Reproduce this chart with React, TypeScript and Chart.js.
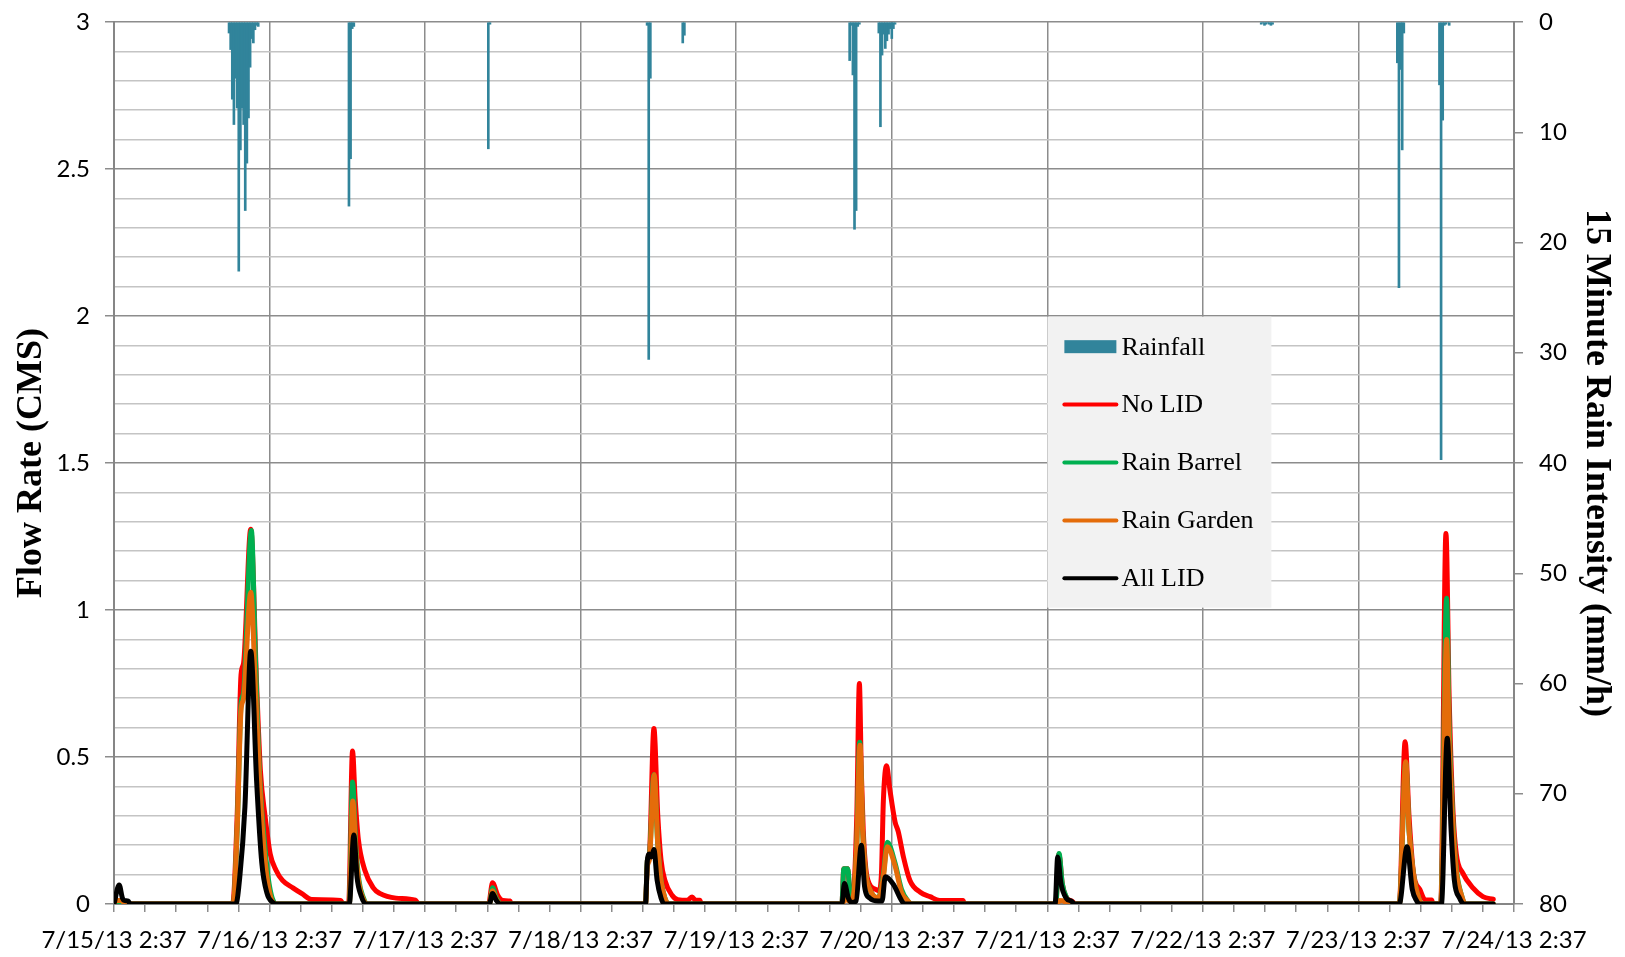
import React, { useEffect, useRef } from 'react';
import { Chart, registerables } from 'chart.js';

Chart.register(...registerables);

// x axis: hours since 7/15/13 2:37
const xTickLabels = [
  '7/15/13 2:37', '7/16/13 2:37', '7/17/13 2:37', '7/18/13 2:37', '7/19/13 2:37',
  '7/20/13 2:37', '7/21/13 2:37', '7/22/13 2:37', '7/23/13 2:37', '7/24/13 2:37',
];
const yTickLabels = ['0', '0.5', '1', '1.5', '2', '2.5', '3'];
const rainTickLabels = ['0', '10', '20', '30', '40', '50', '60', '70', '80'];

const seriesLabels = ['Rainfall', 'No LID', 'Rain Barrel', 'Rain Garden', 'All LID'];

// Rainfall (mm/h), 15-minute bursts: start hour and consecutive values
const rainStarts = [17.75, 36.25, 57.75, 82.25, 87.75, 113.5, 118.0, 177.0, 198.0, 204.5];
const rainBursts = [
  [1.0, 2.5, 7.0, 9.3, 5.1, 7.8, 22.6, 11.6, 7.8, 9.3, 17.1, 12.8, 8.7, 4.1, 1.5, 1.9, 0.7, 0.3, 0.4],
  [16.7, 12.4, 0.6, 0.4],
  [11.5, 0.2],
  [0.3, 30.6, 5.1],
  [1.9, 1.2],
  [3.5, 0.3, 4.8, 18.8, 17.1, 0.4, 0.2],
  [1.0, 9.5, 3.0, 1.1, 2.4, 1.7, 1.1, 0.6, 1.5, 0.6, 0.2],
  [0.2, 0.1, 0.3, 0.2, 0.1, 0.2, 0.3, 0.2],
  [3.7, 24.1, 4.3, 11.6, 1.0],
  [5.7, 39.7, 8.9, 0.3, 0.2, 0, 0.3],
];

// Flow rate (CMS): [hour, value]
const noLid: [number, number][] = [
  [0, 0], [18.3, 0], [19.0, 0.3], [19.6, 0.78], [20.0, 0.82], [21.1, 1.275], [22.0, 0.75], [22.6, 0.45],
  [23.3, 0.3], [24.1, 0.17], [25.0, 0.115], [26.0, 0.08], [27.6, 0.055], [29.0, 0.035], [30.5, 0.015],
  [35.0, 0.012], [35.3, 0],
  [36.2, 0], [36.8, 0.52], [37.2, 0.36], [37.7, 0.22], [38.7, 0.115], [40.0, 0.055], [41.0, 0.036],
  [43.5, 0.02], [46.5, 0.013], [47.0, 0],
  [57.8, 0], [58.4, 0.072], [59.2, 0.03], [60.0, 0.012], [61.1, 0.01], [61.3, 0],
  [82.0, 0], [82.3, 0.15], [82.6, 0.17], [83.3, 0.597], [83.9, 0.3], [84.4, 0.15], [85.0, 0.08],
  [86.1, 0.03], [87.0, 0.015], [88.5, 0.013], [89.2, 0.024], [89.7, 0.013], [90.4, 0.013], [90.6, 0],
  [112.3, 0], [112.6, 0.12], [113.2, 0.12], [113.5, 0.05], [114.0, 0.03], [114.6, 0.3], [115.0, 0.75],
  [115.3, 0.45], [115.6, 0.25], [116.0, 0.12], [116.5, 0.07], [117.5, 0.05], [118.0, 0.045],
  [118.4, 0.1], [118.7, 0.35], [119.2, 0.47], [119.7, 0.39], [120.5, 0.28], [121.0, 0.246],
  [121.8, 0.16], [122.8, 0.08], [124.4, 0.04], [125.9, 0.025], [127.4, 0.012], [131.0, 0.012], [131.2, 0],
  [145.3, 0], [145.8, 0.17], [146.3, 0.07], [147.0, 0.02], [147.8, 0.01], [148.3, 0],
  [198.3, 0], [199.2, 0.552], [199.8, 0.3], [200.5, 0.105], [201.5, 0.048], [202.3, 0.014],
  [203.3, 0.014], [203.5, 0], [204.7, 0], [205.5, 1.26], [206.0, 0.7], [206.6, 0.31], [207.1, 0.17],
  [208.1, 0.105], [209.7, 0.054], [211.2, 0.025], [212.8, 0.016],
];

const rainBarrel: [number, number][] = [
  [0, 0], [18.4, 0], [19.0, 0.25], [19.6, 0.68], [20.0, 0.72], [21.2, 1.27], [21.8, 0.85], [22.5, 0.42],
  [23.3, 0.19], [24.0, 0.06], [25.0, 0],
  [36.3, 0], [36.8, 0.415], [37.3, 0.2], [37.8, 0.08], [38.5, 0.02], [39.0, 0],
  [57.9, 0], [58.4, 0.055], [59.0, 0.02], [59.8, 0],
  [82.0, 0], [82.3, 0.15], [82.6, 0.165], [83.3, 0.44], [83.9, 0.2], [84.4, 0.08], [85.0, 0.02], [85.6, 0],
  [112.3, 0], [112.6, 0.12], [113.2, 0.12], [113.5, 0.05], [114.0, 0.02], [114.6, 0.2], [115.05, 0.55],
  [115.5, 0.25], [116.0, 0.1], [116.6, 0.05], [117.9, 0.02], [118.7, 0.1], [119.3, 0.21], [120.5, 0.14],
  [121.5, 0.05], [122.5, 0.01], [123.0, 0],
  [145.3, 0], [145.8, 0.172], [146.3, 0.07], [147.0, 0.02], [147.6, 0],
  [198.3, 0], [199.3, 0.48], [199.8, 0.25], [200.5, 0.1], [201.3, 0.02], [201.9, 0], [204.7, 0],
  [205.6, 1.04], [206.0, 0.6], [206.6, 0.27], [207.1, 0.12], [207.9, 0.03], [208.5, 0], [212.8, 0],
];

const rainGarden: [number, number][] = [
  [0, 0], [0.3, 0.012], [1.3, 0.012], [1.6, 0],
  [18.4, 0], [19.0, 0.25], [19.6, 0.66], [20.0, 0.7], [21.1, 1.06], [21.8, 0.75], [22.5, 0.4],
  [23.3, 0.15], [24.1, 0.03], [25.0, 0],
  [36.3, 0], [36.85, 0.35], [37.3, 0.18], [37.8, 0.07], [38.5, 0.015], [39.0, 0],
  [57.9, 0], [58.4, 0.045], [59.0, 0.015], [59.8, 0],
  [82.0, 0], [82.3, 0.13], [82.6, 0.15], [83.35, 0.44], [83.9, 0.2], [84.4, 0.08], [85.0, 0.02], [85.6, 0],
  [112.3, 0], [112.8, 0.015], [113.5, 0.01], [114.0, 0.02], [114.6, 0.2], [115.1, 0.54], [115.5, 0.25],
  [116.0, 0.1], [116.6, 0.05], [117.9, 0.02], [118.7, 0.09], [119.3, 0.195], [120.5, 0.13],
  [121.5, 0.04], [122.5, 0.01], [123.0, 0],
  [145.5, 0], [145.9, 0.012], [146.6, 0.01], [147.0, 0],
  [198.3, 0], [199.3, 0.484], [199.8, 0.25], [200.5, 0.1], [201.3, 0.02], [201.9, 0], [204.7, 0],
  [205.6, 0.9], [206.0, 0.55], [206.6, 0.25], [207.1, 0.11], [207.9, 0.03], [208.5, 0], [212.8, 0],
];

const allLid: [number, number][] = [
  [0, 0], [0.8, 0.065], [1.3, 0.02], [1.6, 0.012], [2.2, 0.01], [2.5, 0],
  [18.8, 0], [19.4, 0.09], [20.2, 0.33], [21.1, 0.86], [22.0, 0.42], [22.8, 0.14], [23.6, 0.037],
  [24.5, 0.005], [25.0, 0],
  [36.3, 0], [37.0, 0.235], [37.5, 0.09], [38.1, 0.03], [38.9, 0],
  [57.9, 0], [58.4, 0.036], [59.0, 0.012], [59.6, 0],
  [82.0, 0], [82.3, 0.15], [82.6, 0.17], [82.9, 0.16], [83.3, 0.185], [83.8, 0.08], [84.4, 0.02], [84.9, 0],
  [112.3, 0], [112.7, 0.07], [113.3, 0.02], [113.8, 0.005], [114.5, 0.01], [115.3, 0.2], [115.8, 0.06],
  [116.6, 0.02], [117.9, 0.01], [118.5, 0.01], [119.0, 0.093], [120.3, 0.065], [121.3, 0.02], [122.0, 0],
  [145.2, 0], [145.6, 0.16], [146.1, 0.07], [146.9, 0.02], [147.7, 0.01], [148.2, 0],
  [198.3, 0], [199.5, 0.195], [200.3, 0.05], [201.0, 0.01], [201.4, 0], [204.8, 0], [205.7, 0.564],
  [206.3, 0.25], [206.8, 0.08], [207.6, 0.02], [208.3, 0], [212.8, 0],
];

const toPoints = (pairs: [number, number][]) => pairs.map(([x, y]) => ({ x, y }));
const rainPoints = rainStarts.flatMap((s, i) => rainBursts[i].map((v, j) => ({ x: s + j * 0.25, y: v })));

const isMultiple = (v: number, step: number) => Math.abs(v / step - Math.round(v / step)) < 1e-6;

const legendPlugin = {
  id: 'boxLegend',
  afterDraw(chart: any) {
    const { ctx, chartArea: a } = chart;
    const bx = a.left + (a.right - a.left) * 0.6667;
    const by = a.top + (a.bottom - a.top) * 0.3341;
    const bw = 224;
    const bh = 291;
    ctx.save();
    ctx.fillStyle = '#f2f2f2';
    ctx.fillRect(bx, by, bw, bh);
    ctx.font = '26px "Liberation Serif"';
    ctx.textBaseline = 'middle';
    ctx.textAlign = 'left';
    chart.data.datasets.forEach((ds: any, i: number) => {
      const cy = by + 30 + i * 57.9;
      if (ds.type === 'bar') {
        ctx.fillStyle = ds.backgroundColor;
        ctx.fillRect(bx + 17, cy - 6.5, 52, 13);
      } else {
        ctx.strokeStyle = ds.borderColor;
        ctx.lineWidth = 4;
        ctx.lineCap = 'round';
        ctx.beginPath();
        ctx.moveTo(bx + 17, cy);
        ctx.lineTo(bx + 69, cy);
        ctx.stroke();
      }
      ctx.fillStyle = '#000';
      ctx.fillText(ds.label, bx + 74, cy + 1);
    });
    ctx.restore();
  },
};

const tickFont = { family: 'Lato', size: 24 };
const titleFont = { family: '"Liberation Serif"', size: 36, weight: 'bold' as const };

export default function App() {
  const ref = useRef<HTMLCanvasElement>(null);
  useEffect(() => {
    let chart: Chart | null = null;
    let cancelled = false;
    const build = () => {
      if (cancelled || !ref.current) return;
      const lineDs = (label: string, color: string, pairs: [number, number][], order: number) => ({
        type: 'line' as const,
        label,
        data: toPoints(pairs),
        borderColor: color,
        backgroundColor: color,
        borderWidth: 5,
        pointRadius: 0,
        fill: false,
        cubicInterpolationMode: 'monotone' as const,
        borderJoinStyle: 'round' as const,
        borderCapStyle: 'round' as const,
        xAxisID: 'x',
        yAxisID: 'y',
        order,
      });
      chart = new Chart(ref.current, {
        type: 'line',
        data: {
          datasets: [
            {
              type: 'bar',
              label: seriesLabels[0],
              data: rainPoints as any,
              backgroundColor: '#31849b',
              borderWidth: 0,
              barThickness: 2,
              xAxisID: 'x',
              yAxisID: 'y2',
              order: 5,
            } as any,
            lineDs(seriesLabels[1], '#ff0000', noLid, 4),
            lineDs(seriesLabels[2], '#00b050', rainBarrel, 3),
            lineDs(seriesLabels[3], '#e46c0a', rainGarden, 2),
            lineDs(seriesLabels[4], '#000000', allLid, 1),
          ],
        },
        options: {
          responsive: false,
          animation: false,
          devicePixelRatio: 1,
          events: [],
          layout: { padding: { top: 22, left: 0, right: 0, bottom: 0 } },
          plugins: { legend: { display: false }, tooltip: { enabled: false } },
          scales: {
            x: {
              type: 'linear',
              min: 0,
              max: 216,
              offset: false,
              afterFit: (s: any) => { s.height = 53; },
              ticks: {
                stepSize: 4.8,
                maxTicksLimit: 200,
                autoSkip: false,
                maxRotation: 0,
                minRotation: 0,
                padding: 14,
                color: '#000',
                font: tickFont,
                callback: (v: any) => (isMultiple(Number(v), 24) ? xTickLabels[Math.round(Number(v) / 24)] : ''),
              },
              grid: {
                offset: false,
                lineWidth: 1.5,
                tickLength: 8,
                color: (c: any) => (c.tick && isMultiple(c.tick.value, 24) ? '#8c8c8c' : 'rgba(0,0,0,0)'),
                tickColor: '#8c8c8c',
              },
              border: { color: '#868686', width: 2 },
            },
            y: {
              type: 'linear',
              position: 'left',
              min: 0,
              max: 3,
              afterFit: (s: any) => { s.width = 114; s.paddingTop = 0; s.paddingBottom = 0; },
              ticks: {
                stepSize: 0.1,
                maxTicksLimit: 200,
                autoSkip: false,
                padding: 15,
                color: '#000',
                font: tickFont,
                callback: (v: any) => (isMultiple(Number(v), 0.5) ? yTickLabels[Math.round(Number(v) / 0.5)] : ''),
              },
              grid: {
                lineWidth: 1.5,
                tickLength: 9,
                color: (c: any) => (c.tick && isMultiple(c.tick.value, 0.5) ? '#8c8c8c' : '#c4c4c4'),
                tickColor: (c: any) => (c.tick && isMultiple(c.tick.value, 0.5) ? '#8c8c8c' : 'rgba(0,0,0,0)'),
              },
              border: { color: '#868686', width: 2 },
              title: {
                display: true,
                text: 'Flow Rate (CMS)',
                color: '#000',
                font: titleFont,
                padding: { top: 10, bottom: 0 },
              },
            },
            y2: {
              type: 'linear',
              position: 'right',
              min: 0,
              max: 80,
              reverse: true,
              afterFit: (s: any) => { s.width = 111; s.paddingTop = 0; s.paddingBottom = 0; },
              ticks: {
                stepSize: 10,
                autoSkip: false,
                padding: 16,
                color: '#000',
                font: tickFont,
                callback: (v: any) => rainTickLabels[Math.round(Number(v) / 10)],
              },
              grid: {
                drawOnChartArea: false,
                drawTicks: true,
                lineWidth: 1.5,
                tickLength: 9,
                color: '#8c8c8c',
                tickColor: '#8c8c8c',
              },
              border: { color: '#868686', width: 2 },
              title: {
                display: true,
                text: '15 Minute Rain Intensity (mm/h)',
                color: '#000',
                font: titleFont,
                padding: { top: 7, bottom: 0 },
              },
            },
          },
        } as any,
        plugins: [legendPlugin],
      });
    };
    const fonts = (document as any).fonts;
    if (fonts && fonts.load) {
      Promise.all([
        fonts.load('24px Lato'),
        fonts.load('26px "Liberation Serif"'),
        fonts.load('bold 36px "Liberation Serif"'),
      ]).then(build, build);
    } else {
      build();
    }
    return () => {
      cancelled = true;
      if (chart) chart.destroy();
    };
  }, []);
  return (
    <div style={{ position: 'absolute', left: 0, top: 0, width: 1625, height: 957, background: '#fff' }}>
      <canvas ref={ref} width={1625} height={957} style={{ display: 'block' }} />
    </div>
  );
}
